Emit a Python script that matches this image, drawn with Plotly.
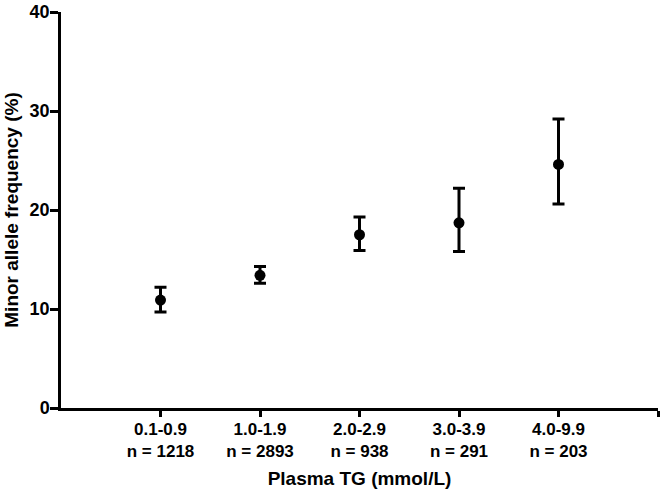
import plotly.graph_objects as go

categories = ["0.1-0.9<br>n = 1218", "1.0-1.9<br>n = 2893", "2.0-2.9<br>n = 938",
              "3.0-3.9<br>n = 291", "4.0-9.9<br>n = 203"]
x_pos = [1, 2, 3, 4, 5]
maf = [10.9, 13.4, 17.5, 18.7, 24.6]
err_upper = [12.2, 14.3, 19.3, 22.2, 29.2]
err_lower = [9.7, 12.6, 15.9, 15.8, 20.6]

plus = [u - m for u, m in zip(err_upper, maf)]
minus = [m - l for m, l in zip(maf, err_lower)]

fig = go.Figure()
fig.add_trace(go.Scatter(
    x=x_pos, y=maf, mode="markers",
    marker=dict(color="black", size=11, symbol="circle"),
    error_y=dict(type="data", symmetric=False, array=plus, arrayminus=minus,
                 color="black", thickness=3, width=6),
    showlegend=False,
))

font_family = "Liberation Sans, Arial, sans-serif"
fig.update_layout(
    width=665, height=496,
    paper_bgcolor="white", plot_bgcolor="white",
    margin=dict(l=61, r=7, t=12, b=88),
    font=dict(family=font_family, color="black"),
    xaxis=dict(
        range=[0, 6], tickmode="array", tickvals=[1, 2, 3, 4, 5, 6],
        ticktext=categories + [""],
        ticks="outside", ticklen=6, tickwidth=2.5, tickcolor="black",
        showline=True, linecolor="black", linewidth=2.5,
        showgrid=False, zeroline=False, automargin=False,
        tickfont=dict(size=17, family=font_family, weight="bold"),
        ticklabelstandoff=-2,
        title=dict(text="<b>Plasma TG (mmol/L)</b>", font=dict(size=19), standoff=12),
    ),
    yaxis=dict(
        range=[0, 40], tickvals=[0, 10, 20, 30, 40],
        ticks="outside", ticklen=8, tickwidth=2.5, tickcolor="black",
        showline=True, linecolor="black", linewidth=2.5,
        showgrid=False, zeroline=False, automargin=False,
        tickfont=dict(size=18, family=font_family, weight="bold"),
        ticklabelstandoff=-3,
        title=dict(text="<b>Minor allele frequency (%)</b>", font=dict(size=19), standoff=6),
    ),
)

fig.write_html("out.html", config={"displayModeBar": False},
               post_script="document.body.style.margin='0';")
